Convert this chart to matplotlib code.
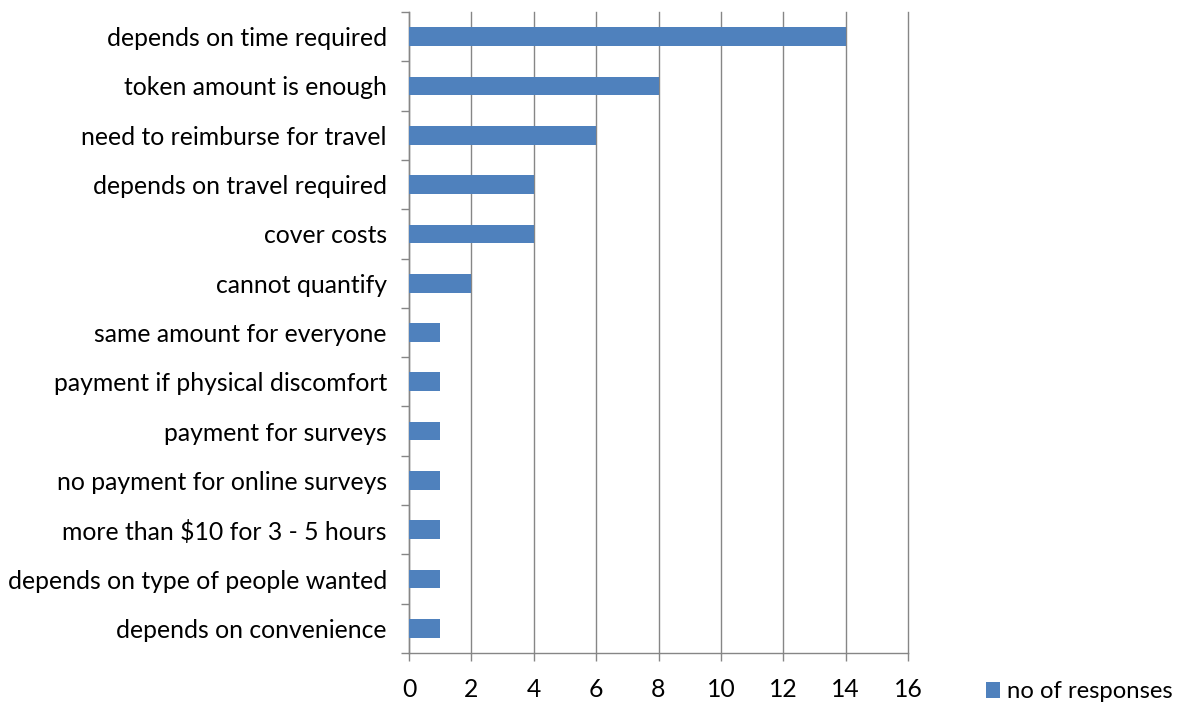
import numpy as np
import matplotlib.pyplot as plt

categories = [
    "depends on time required",
    "token amount is enough",
    "need to reimburse for travel",
    "depends on travel required",
    "cover costs",
    "cannot quantify",
    "same amount for everyone",
    "payment if physical discomfort",
    "payment for surveys",
    "no payment for online surveys",
    "more than $10 for 3 - 5 hours",
    "depends on type of people wanted",
    "depends on convenience",
]
responses = [14, 8, 6, 4, 4, 2, 1, 1, 1, 1, 1, 1, 1]
x_ticks = [0, 2, 4, 6, 8, 10, 12, 14, 16]

plt.rcParams['font.family'] = ['Lato', 'DejaVu Sans']
grey = '#868686'
fs = 17.8

fig = plt.figure(figsize=(11.84, 7.06), dpi=100)
ax = fig.add_axes([409 / 1184, 1 - 653 / 706, (908 - 409) / 1184, (653 - 12) / 706])

n = len(categories)
y = np.arange(n)
bars = ax.barh(y, responses, height=0.38, color='#4F81BD', label='no of responses', zorder=3)

ax.set_xlim(0, 16)
ax.set_ylim(n - 0.5, -0.5)
ax.set_xticks(x_ticks)
ax.set_xticklabels([str(t) for t in x_ticks], fontsize=fs)
ax.set_yticks(y)
ax.set_yticklabels(categories, fontsize=fs)
ax.tick_params(axis='y', length=0, pad=16)
ax.set_yticks(np.arange(-0.5, n, 1), minor=True)
ax.tick_params(axis='y', which='minor', length=6, color=grey, width=1)
ax.tick_params(axis='x', length=6, color=grey, width=1, pad=12)

ax.grid(axis='x', color=grey, linewidth=1, zorder=0)
for gl in ax.get_xgridlines():
    gl.set_clip_on(False)
for s in ['top', 'right']:
    ax.spines[s].set_visible(False)
for s in ['left', 'bottom']:
    ax.spines[s].set_color(grey)
    ax.spines[s].set_linewidth(1)

fig.legend(handles=[bars], labels=['no of responses'], loc='center left',
           bbox_to_anchor=(964 / 1184, 1 - 692 / 706), frameon=False,
           fontsize=17.2, handlelength=0.6, handleheight=0.6, handletextpad=0.3)

plt.savefig("out.png", dpi=100)
